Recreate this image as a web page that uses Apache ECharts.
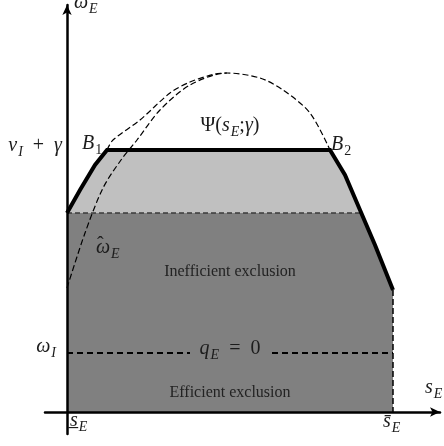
<!DOCTYPE html>
<html>
<head>
<meta charset="utf-8">
<script src="https://cdn.jsdelivr.net/npm/echarts@6/dist/echarts.min.js"></script>
<style>
html,body{margin:0;padding:0;background:#fff}
#main{width:444px;height:446px}
</style>
</head>
<body>
<div id="main"></div>
<script>
/* data, 1 unit = 1 px, origin at the axes crossing */
var omegaHat = [[0,124],[18,179],[36,224],[54,252],[70,272],[93,302],[123,327],[160,339],[193,334],[216,322],[243,299],[263,262]];
var psiUpper = [[40,262],[46,272],[73,292],[103,319],[123,330],[148,338],[160,339]];
var boundary = [[0,199],[13,222],[28,247],[40,262],[263,262],[278,237],[293,202],[308,167],[326,122]];
var darkTop = [[0,199],[294,199],[308,167],[326,122]];
var midLine = [[0,199],[294,199]];
var qLeft = [[0,59],[123,59]];
var qRight = [[205,59],[326,59]];
var rightEdge = [[326,122],[326,0]];

var ink = '#1c1c1c';
var rich = {
    m: {font: 'italic 20px "Liberation Serif"', lineHeight: 22, verticalAlign: 'top', fill: ink},
    r: {font: '20px "Liberation Serif"', lineHeight: 22, verticalAlign: 'top', fill: ink},
    s: {font: 'italic 14px "Liberation Serif"', lineHeight: 14, verticalAlign: 'top', padding: [9, 0, 0, 1], fill: ink},
    n: {font: '14px "Liberation Serif"', lineHeight: 14, verticalAlign: 'top', padding: [9, 0, 0, 1], fill: ink}
};

var label = function (x, y, text, align) {
    return {
        type: 'text', x: x, y: y, z: 100,
        style: {text: text, rich: rich, align: align || 'left', verticalAlign: 'top'}
    };
};
var plain = function (x, y, text) {
    return {
        type: 'text', x: x, y: y, z: 100,
        style: {text: text, font: '16px "Liberation Serif"', fill: '#222', align: 'center', verticalAlign: 'middle'}
    };
};

var hideAxis = function (min, max) {
    return {
        type: 'value', min: min, max: max, z: 10,
        axisLine: {onZero: true, symbol: ['none', 'arrow'], symbolSize: [7, 10],
            lineStyle: {color: '#000', width: 2.5}},
        axisTick: {show: false}, axisLabel: {show: false}, splitLine: {show: false}
    };
};

var line = function (data, opts) {
    var s = {type: 'line', data: data, symbol: 'none', silent: true, z: 3,
        lineStyle: {color: '#000', width: 1}};
    for (var k in opts) s[k] = opts[k];
    return s;
};

var myChart = echarts.init(document.getElementById('main'));
var options = {
    animation: false,
    grid: {left: 45, right: 4, top: 5, bottom: 12},
    xAxis: hideAxis(-22, 373),
    yAxis: hideAxis(-22, 407),
    series: [
        line(boundary, {z: 1, lineStyle: {width: 0}, areaStyle: {color: '#c0c0c0', opacity: 1}}),
        line(darkTop, {z: 2, lineStyle: {width: 0}, areaStyle: {color: '#808080', opacity: 1}}),
        line(midLine, {lineStyle: {color: '#3a3a3a', width: 1.5, type: [5, 3]}}),
        line(qLeft, {lineStyle: {color: '#000', width: 2, type: [6, 4]}}),
        line(qRight, {lineStyle: {color: '#000', width: 2, type: [6, 4]}}),
        line(rightEdge, {lineStyle: {color: '#000', width: 1.5, type: [6, 3]}}),
        line(omegaHat, {smooth: 0.3, lineStyle: {color: '#000', width: 1.2, type: [6, 3]}}),
        line(psiUpper, {smooth: 0.3, lineStyle: {color: '#000', width: 1.2, type: [6, 3]}}),
        line(boundary, {z: 5, lineStyle: {color: '#000', width: 4, join: 'miter'}})
    ],
    graphic: [
        label(74, -7, '{m|ω}{s|E}'),
        label(62, 136, '{m|v}{s|I}{r|  +  }{m|γ}', 'right'),
        label(82, 134, '{m|B}{n|1}'),
        label(331, 135, '{m|B}{n|2}'),
        label(230, 116, '{r|Ψ(}{m|s}{s|E}{r|;}{m|γ}{r|)}', 'center'),
        label(96, 238, '{m|ω}{s|E}'),
        label(97, 236, '{r|ˆ}'),
        plain(230, 272, 'Inefficient exclusion'),
        label(230, 339, '{m|q}{s|E}{r|  =  0}', 'center'),
        plain(230, 393, 'Efficient exclusion'),
        label(56, 337, '{m|ω}{s|I}', 'right'),
        label(425, 378, '{m|s}{s|E}'),
        label(70, 411, '{m|s̲}{s|E}'),
        label(383, 412, '{m|s̄}{s|E}')
    ]
};
myChart.setOption(options);
</script>
</body>
</html>
